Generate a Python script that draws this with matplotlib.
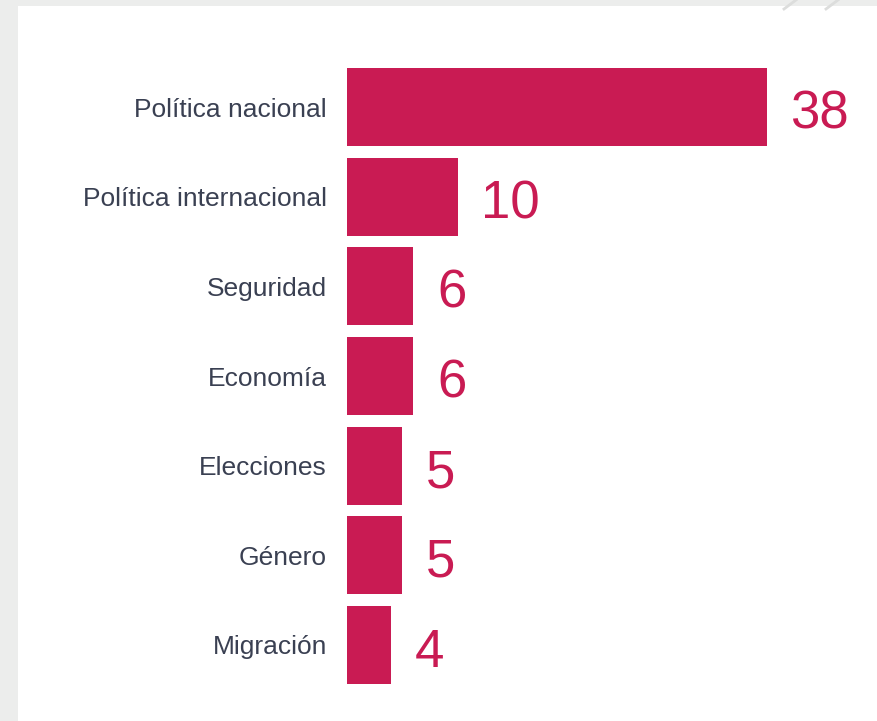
import matplotlib.pyplot as plt
from matplotlib.patches import Rectangle
from matplotlib.lines import Line2D

categories = ['Política nacional', 'Política internacional', 'Seguridad',
              'Economía', 'Elecciones', 'Género', 'Migración']
values = [38, 10, 6, 6, 5, 5, 4]

BAR_COLOR = '#C91B53'
LABEL_COLOR = '#3A4052'
BG_GRAY = '#ECEDEC'

W, H = 877, 721
fig = plt.figure(figsize=(W / 100, H / 100), dpi=100)
fig.patch.set_facecolor(BG_GRAY)

# white card
fig.patches.append(Rectangle((18 / W, 0), 1 - 18 / W, 1 - 6 / H,
                             transform=fig.transFigure, facecolor='white',
                             edgecolor='none', zorder=-2))
# faint decorative strokes at the top right
for x0 in (796, 838):
    fig.lines.append(Line2D([x0 / W, (x0 - 12) / W], [1, 1 - 9 / H],
                            transform=fig.transFigure, color='#DCDDDC',
                            linewidth=2, zorder=-1))

top_px, bottom_px = 62.2, 689.8
ax = fig.add_axes([347 / W, 1 - bottom_px / H, (W - 347) / W, (bottom_px - top_px) / H])
ax.set_facecolor('none')
ax.set_zorder(3)

y = list(range(len(categories)))
ax.barh(y, values, height=0.87, color=BAR_COLOR)

ax.set_xlim(0, 530 / 11.05)
ax.set_ylim(len(categories) - 0.5, -0.5)

for spine in ax.spines.values():
    spine.set_visible(False)
ax.set_xticks([])
ax.set_yticks(y)
ax.set_yticklabels(categories, fontsize=19, color=LABEL_COLOR,
                   family=['Liberation Sans', 'DejaVu Sans'])
ax.tick_params(axis='y', length=0, pad=14.5)
for lbl in ax.get_yticklabels():
    lbl.set_y(lbl.get_position()[1])
    lbl.set_verticalalignment('center_baseline')

for yi, v in zip(y, values):
    ax.annotate(str(v), xy=(v, yi), xytext=(17, -5.5), textcoords='offset points',
                ha='left', va='center', fontsize=38, color=BAR_COLOR,
                family=['Liberation Sans', 'DejaVu Sans'], annotation_clip=False)

fig.savefig('out.png', dpi=100, facecolor=fig.get_facecolor())
